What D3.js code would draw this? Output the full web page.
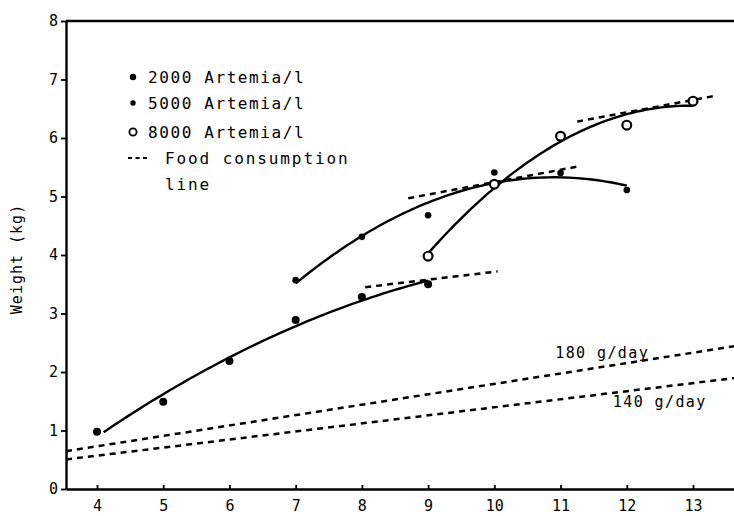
<!DOCTYPE html>
<html>
<head>
<meta charset="utf-8">
<script src="https://cdn.jsdelivr.net/npm/d3@7"></script>
<style>
  body { margin: 0; background: #fff; }
  svg text { font-family: "DejaVu Sans Mono", "Liberation Mono", monospace; fill: #000; }
</style>
</head>
<body>
<svg id="chart" width="734" height="516"></svg>
<script>
// ---- data ----
const xTicks = [4, 5, 6, 7, 8, 9, 10, 11, 12, 13];
const yTicks = [0, 1, 2, 3, 4, 5, 6, 7, 8];

const seriesNames = ["2000 Artemia/l", "5000 Artemia/l", "8000 Artemia/l"];
const x2000 = [4, 5, 6, 7, 8, 9];
const w2000 = [0.98, 1.49, 2.19, 2.89, 3.28, 3.50];
const x5000 = [7, 8, 9, 10, 11, 12];
const w5000 = [3.57, 4.31, 4.68, 5.41, 5.40, 5.11];
const x8000 = [9, 10, 11, 12, 13];
const w8000 = [3.98, 5.21, 6.03, 6.22, 6.63];
// span of each fitted growth curve (x units)
const fitFrom = [4.1, 7, 9];
const fitTo = [9, 12, 13];

// food consumption segments next to each curve
const consX0 = [8.05, 8.7, 11.25];
const consW0 = [3.45, 4.97, 6.28];
const consX1 = [10.05, 11.25, 13.33];
const consW1 = [3.72, 5.51, 6.72];

// constant ration lines
const rationLabels = ["180 g/day", "140 g/day"];
const rationAt4 = [0.73, 0.57];
const rationAt13 = [2.33, 1.81];
const rationLabelX = [10.92, 11.79];
const rationLabelW = [2.24, 1.40];

// ---- layout ----
const svg = d3.select("#chart");
const plotLeft = 66, plotRight = 734, plotTop = 21, plotBottom = 489;
const x = d3.scaleLinear().domain([4, 13]).range([97, 693]);
const y = d3.scaleLinear().domain([0, 8]).range([plotBottom, plotTop]);
const xFull = x.copy().domain([x.invert(plotLeft), x.invert(plotRight)]).range([plotLeft, plotRight]);

// axes
const yAxis = svg.append("g")
  .attr("transform", `translate(${plotLeft},0)`)
  .call(d3.axisLeft(y).tickValues(yTicks).tickSize(5).tickSizeOuter(0).tickPadding(3));
const xAxis = svg.append("g")
  .attr("transform", `translate(0,${plotBottom})`)
  .call(d3.axisBottom(xFull).tickValues(xTicks).tickSize(-4).tickSizeOuter(0).tickPadding(11));
[yAxis, xAxis].forEach(g => {
  g.selectAll("path.domain").attr("stroke", "#000").attr("stroke-width", 2.4);
  g.selectAll(".tick line").attr("stroke", "#000").attr("stroke-width", 1.8);
  g.selectAll(".tick text").style("font-size", "15px").attr("fill", "#000");
});
// top frame line
svg.append("line")
  .attr("x1", plotLeft).attr("x2", plotRight).attr("y1", y(8)).attr("y2", y(8))
  .attr("stroke", "#000").attr("stroke-width", 2.4);

// y axis title
svg.append("text")
  .attr("transform", `translate(22,${(plotTop + plotBottom) / 2 + 4}) rotate(-90)`)
  .attr("text-anchor", "middle")
  .style("font-size", "15px")
  .style("letter-spacing", "1px")
  .text("Weight (kg)");

// ---- ration lines ----
const dash = "6,5";
rationLabels.forEach((lab, i) => {
  const f = v => rationAt4[i] + (rationAt13[i] - rationAt4[i]) * (v - 4) / 9;
  const x0 = xFull.domain()[0], x1 = xFull.domain()[1];
  svg.append("line")
    .attr("x1", x(x0)).attr("y1", y(f(x0)))
    .attr("x2", x(x1)).attr("y2", y(f(x1)))
    .attr("stroke", "#000").attr("stroke-width", 2.5).attr("stroke-dasharray", dash);
  svg.append("text")
    .attr("x", x(rationLabelX[i])).attr("y", y(rationLabelW[i]))
    .style("font-size", "15px").style("letter-spacing", "1.4px")
    .text(lab);
});

// ---- consumption segments ----
consX0.forEach((v, i) => {
  svg.append("line")
    .attr("x1", x(v)).attr("y1", y(consW0[i]))
    .attr("x2", x(consX1[i])).attr("y2", y(consW1[i]))
    .attr("stroke", "#000").attr("stroke-width", 2.5).attr("stroke-dasharray", dash);
});

// ---- fitted growth curves (least-squares quadratic) ----
function quadFit(xs, ys) {
  const mx = d3.mean(xs);
  const t = xs.map(v => v - mx);
  const t2 = t.map(v => v * v), m2 = d3.mean(t2);
  const my = d3.mean(ys);
  const b = d3.sum(t.map((v, k) => v * ys[k])) / d3.sum(t2);
  const c = d3.sum(t2.map((v, k) => (v - m2) * ys[k])) / d3.sum(t2.map(v => (v - m2) ** 2));
  const a = my - c * m2;
  return v => a + b * (v - mx) + c * (v - mx) ** 2;
}
const allX = [x2000, x5000, x8000];
const allW = [w2000, w5000, w8000];
const line = d3.line().x(d => x(d[0])).y(d => y(d[1])).curve(d3.curveLinear);
allX.forEach((xs, i) => {
  const f = quadFit(xs, allW[i]);
  const pts = d3.range(0, 81).map(k => {
    const v = fitFrom[i] + (fitTo[i] - fitFrom[i]) * k / 80;
    return [v, f(v)];
  });
  svg.append("path").attr("d", line(pts))
    .attr("fill", "none").attr("stroke", "#000").attr("stroke-width", 2.4);
});

// ---- data points ----
const markerR = [4.0, 3.3, 4.4];
allX.forEach((xs, i) => {
  svg.append("g").selectAll("circle")
    .data(xs.map((v, k) => [v, allW[i][k]]))
    .join("circle")
    .attr("cx", d => x(d[0])).attr("cy", d => y(d[1]))
    .attr("r", markerR[i])
    .attr("fill", i === 2 ? "#fff" : "#000")
    .attr("stroke", "#000").attr("stroke-width", i === 2 ? 2.2 : 0);
});

// ---- legend ----
const legend = svg.append("g");
const legY = [77, 103, 132];
const legR = [3.2, 2.7, 3.6];
seriesNames.forEach((name, i) => {
  legend.append("circle").attr("cx", 133).attr("cy", legY[i]).attr("r", legR[i])
    .attr("fill", i === 2 ? "#fff" : "#000").attr("stroke", "#000").attr("stroke-width", i === 2 ? 1.8 : 0);
  legend.append("text").attr("x", 148).attr("y", legY[i] + 6)
    .style("font-size", "16px").style("letter-spacing", "1.6px").text(name);
});
legend.append("line").attr("x1", 128).attr("x2", 148).attr("y1", 158).attr("y2", 158)
  .attr("stroke", "#000").attr("stroke-width", 2).attr("stroke-dasharray", "4,3.5");
legend.append("text").attr("x", 165).attr("y", 164)
  .style("font-size", "16px").style("letter-spacing", "1.9px").text("Food consumption");
legend.append("text").attr("x", 165).attr("y", 190)
  .style("font-size", "16px").style("letter-spacing", "1.9px").text("line");
</script>
</body>
</html>
